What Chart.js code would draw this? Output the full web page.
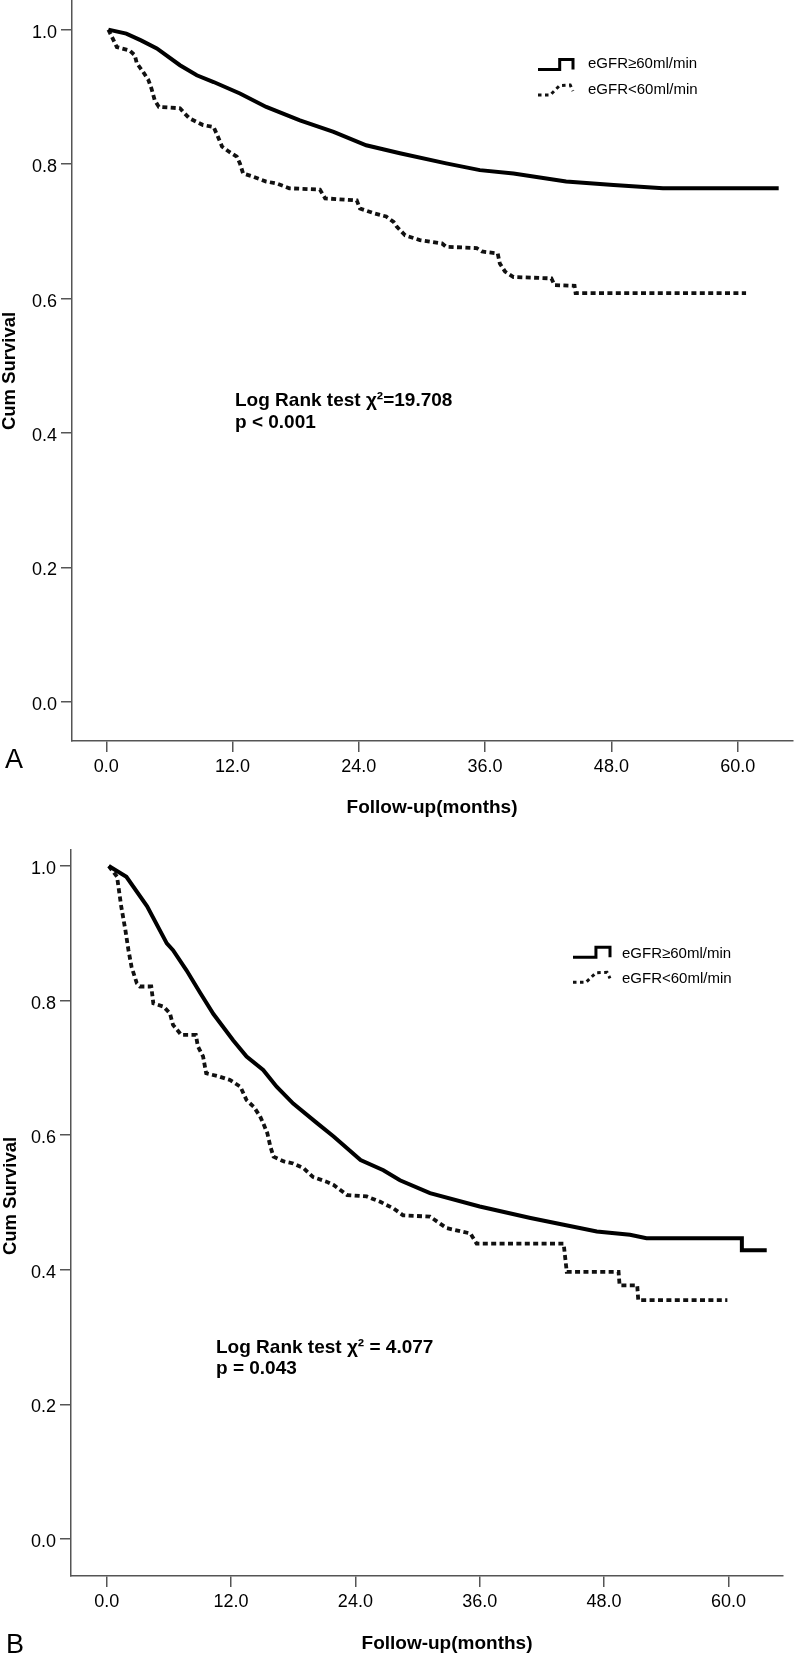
<!DOCTYPE html>
<html>
<head>
<meta charset="utf-8">
<script src="https://cdn.jsdelivr.net/npm/chart.js@4.4.1/dist/chart.umd.min.js"></script>
<style>
  html, body { margin: 0; padding: 0; background: #fff; }
  canvas { display: block; }
</style>
</head>
<body>
<canvas id="panelA" width="800" height="830"></canvas>
<canvas id="panelB" width="800" height="829"></canvas>
<script>
// axis ticks and group names
const xTicks = [0, 12, 24, 36, 48, 60];
const yTicks = [0, 0.2, 0.4, 0.6, 0.8, 1.0];
const groupLabels = ["eGFR≥60ml/min", "eGFR<60ml/min"];

// panel A (months, cum survival)
const monthsHighA = [0.2, 1.9, 3.3, 4.8, 7.0, 8.6, 10.2, 12.7, 15.2, 18.4,
  21.6, 24.7, 27.9, 32.3, 35.5, 38.7, 43.7, 48.2, 52.9, 63.9];
const survHighA = [1.000, 0.994, 0.984, 0.972, 0.947, 0.932, 0.922, 0.905, 0.885, 0.865,
  0.848, 0.828, 0.816, 0.801, 0.791, 0.786, 0.774, 0.769, 0.764, 0.764];
const monthsLowA = [0.2, 1.0, 2.2, 2.7, 2.9, 3.5, 4.0, 4.3, 4.6, 5.0,
  7.0, 7.4, 7.9, 9.2, 10.2, 10.6, 11.0, 11.7, 12.4, 12.7,
  13.0, 14.0, 15.2, 16.2, 17.4, 20.3, 20.8, 23.8, 24.1, 25.4,
  26.6, 27.3, 27.6, 28.4, 29.8, 31.9, 32.3, 35.2, 35.7, 37.2,
  37.4, 37.9, 38.7, 42.3, 42.6, 44.5, 44.6, 60.8];
const survLowA = [1.000, 0.974, 0.969, 0.962, 0.950, 0.937, 0.925, 0.912, 0.895, 0.885,
  0.883, 0.876, 0.868, 0.858, 0.855, 0.841, 0.826, 0.818, 0.811, 0.801,
  0.786, 0.781, 0.774, 0.771, 0.764, 0.762, 0.749, 0.746, 0.734, 0.727,
  0.722, 0.714, 0.707, 0.694, 0.687, 0.682, 0.677, 0.675, 0.670, 0.667,
  0.652, 0.640, 0.632, 0.630, 0.620, 0.619, 0.608, 0.608];

// panel B
const monthsHighB = [0.2, 1.9, 3.9, 5.8, 6.4, 7.7, 9.0, 10.3, 12.2, 13.5,
  15.1, 16.4, 18.0, 20.3, 21.9, 24.5, 26.7, 28.3, 31.2, 36.0,
  40.9, 44.1, 47.3, 50.5, 52.1, 61.3, 61.3, 63.7];
const survHighB = [1.000, 0.984, 0.940, 0.885, 0.875, 0.845, 0.812, 0.780, 0.741, 0.717,
  0.697, 0.672, 0.647, 0.618, 0.598, 0.563, 0.548, 0.533, 0.514, 0.494,
  0.477, 0.467, 0.457, 0.452, 0.447, 0.447, 0.429, 0.429];
const monthsLowB = [0.2, 1.0, 1.4, 1.8, 2.1, 2.4, 2.9, 3.2, 4.3, 4.5,
  5.5, 6.1, 6.4, 7.2, 8.6, 8.8, 9.3, 9.6, 10.9, 11.9,
  12.9, 13.5, 14.2, 14.8, 15.1, 15.5, 15.8, 16.1, 17.1, 18.0,
  19.0, 19.9, 21.2, 21.9, 23.2, 25.1, 26.4, 27.7, 28.6, 31.2,
  32.8, 35.1, 35.7, 44.1, 44.4, 49.4, 49.5, 51.2, 51.3, 59.9];
const survLowB = [1.000, 0.984, 0.940, 0.905, 0.875, 0.850, 0.826, 0.821, 0.821, 0.796,
  0.791, 0.781, 0.764, 0.749, 0.749, 0.732, 0.717, 0.692, 0.687, 0.682,
  0.672, 0.652, 0.642, 0.628, 0.618, 0.603, 0.583, 0.568, 0.561, 0.558,
  0.551, 0.538, 0.531, 0.526, 0.511, 0.509, 0.501, 0.491, 0.481, 0.479,
  0.462, 0.454, 0.439, 0.439, 0.397, 0.397, 0.377, 0.377, 0.355, 0.355];

const FONT = "'Liberation Sans', Arial, Helvetica, sans-serif";
Chart.defaults.font.family = FONT;
Chart.defaults.color = "#000";

function pts(ts, ss) {
  return ts.map((t, i) => ({ x: t, y: ss[i] }));
}

// glyph shapes for the legend (0..1 box)
const glyphs = [
  [[0, 1], [0.62, 1], [0.62, 0], [1, 0], [1, 1]],
  [[0, 1], [0.35, 1], [0.62, 0.05], [0.92, 0], [1, 0.6]],
];

// titles, note, panel letter and legend
const panelDecor = {
  id: "panelDecor",
  afterDraw(chart, args, o) {
    const ctx = chart.ctx;
    ctx.save();
    ctx.fillStyle = "#000";
    ctx.textBaseline = "alphabetic";

    ctx.font = "bold 19px " + FONT;
    ctx.textAlign = "left";
    o.note.forEach((line, i) => ctx.fillText(line, o.noteX, o.noteY + i * o.noteGap));

    ctx.textAlign = "center";
    ctx.fillText(o.xTitle, o.xTitleX, o.xTitleY);

    ctx.save();
    ctx.translate(o.yTitleX, o.yTitleY);
    ctx.rotate(-Math.PI / 2);
    ctx.font = "bold 18.5px " + FONT;
    ctx.fillText(o.yTitle, 0, 0);
    ctx.restore();

    ctx.font = "27px " + FONT;
    ctx.textAlign = "left";
    ctx.fillText(o.letter, o.letterX, o.letterY);

    ctx.font = "15px " + FONT;
    chart.data.datasets.forEach((ds, i) => {
      const by = o.legendY + i * o.legendGap;
      ctx.beginPath();
      glyphs[i].forEach(([gx, gy], k) => {
        const px = o.legendX + gx * o.glyphW;
        const py = by - (1 - gy) * o.glyphH;
        if (k === 0) ctx.moveTo(px, py); else ctx.lineTo(px, py);
      });
      ctx.lineWidth = 3;
      ctx.strokeStyle = ds.borderColor;
      ctx.setLineDash(ds.borderDash ? [3.5, 3.5] : []);
      ctx.stroke();
      ctx.setLineDash([]);
      ctx.fillText(ds.label, o.textX, by + o.textDy);
    });
    ctx.restore();
  },
};

function makePanel(id, high, low, o) {
  return new Chart(document.getElementById(id), {
    type: "line",
    data: {
      datasets: [
        { label: groupLabels[0], data: high, borderColor: "#000", borderWidth: 4,
          pointRadius: 0, tension: 0, fill: false },
        { label: groupLabels[1], data: low, borderColor: "#111", borderWidth: 3.8,
          borderDash: [5, 3.4], pointRadius: 0, tension: 0, fill: false },
      ],
    },
    options: {
      responsive: false,
      animation: false,
      events: [],
      layout: { padding: { left: 0, right: o.padRight, top: o.padTop, bottom: 0 } },
      plugins: {
        legend: { display: false },
        tooltip: { enabled: false },
        panelDecor: o.decor,
      },
      scales: {
        x: {
          type: "linear",
          min: o.xMin,
          max: o.xMax,
          afterBuildTicks: (s) => { s.ticks = xTicks.map((v) => ({ value: v })); },
          afterFit: (s) => { s.height = o.xHeight; s.paddingLeft = 0; s.paddingRight = 0; },
          ticks: { callback: (v) => Number(v).toFixed(1), font: { size: 18 }, color: "#000",
            padding: 4, maxRotation: 0, autoSkip: false },
          grid: { drawOnChartArea: false, drawTicks: true, tickLength: 11, color: "#555", lineWidth: 1.5 },
          border: { display: true, color: "#555", width: 1.5 },
        },
        y: {
          type: "linear",
          min: o.yMin,
          max: o.yMax,
          afterBuildTicks: (s) => { s.ticks = yTicks.map((v) => ({ value: v })); },
          afterFit: (s) => { s.width = o.yWidth; s.paddingTop = 0; s.paddingBottom = 0; },
          ticks: { callback: (v) => Number(v).toFixed(1), font: { size: 18 }, color: "#000",
            padding: 4, labelOffset: 3, autoSkip: false },
          grid: { drawOnChartArea: false, drawTicks: true, tickLength: 11, color: "#555", lineWidth: 1.5 },
          border: { display: true, color: "#555", width: 1.5 },
        },
      },
    },
    plugins: [panelDecor],
  });
}

makePanel("panelA", pts(monthsHighA, survHighA), pts(monthsLowA, survLowA), {
  xMin: -3.26, xMax: 65.26, yMin: -0.058, yMax: 1.044,
  yWidth: 72, xHeight: 89, padRight: 7, padTop: 0,
  decor: {
    letter: "A", letterX: 5, letterY: 768,
    xTitle: "Follow-up(months)", xTitleX: 432, xTitleY: 813,
    yTitle: "Cum Survival", yTitleX: 15, yTitleY: 371,
    note: ["Log Rank test χ²=19.708", "p < 0.001"], noteX: 235, noteY: 406, noteGap: 22,
    legendX: 538, glyphW: 35, glyphH: 10, legendY: 69.5, legendGap: 25.5, textX: 588, textDy: -1.5,
  },
});

makePanel("panelB", pts(monthsHighB, survHighB), pts(monthsLowB, survLowB), {
  xMin: -3.446, xMax: 65.27, yMin: -0.055, yMax: 1.0238,
  yWidth: 71, xHeight: 83, padRight: 17, padTop: 20,
  decor: {
    letter: "B", letterX: 6, letterY: 823,
    xTitle: "Follow-up(months)", xTitleX: 447, xTitleY: 818.6,
    yTitle: "Cum Survival", yTitleX: 16, yTitleY: 366,
    note: ["Log Rank test χ² = 4.077", "p = 0.043"], noteX: 216, noteY: 523.3, noteGap: 21,
    legendX: 573, glyphW: 37, glyphH: 10, legendY: 127.3, legendGap: 25, textX: 622, textDy: 0.7,
  },
});
</script>
</body>
</html>
